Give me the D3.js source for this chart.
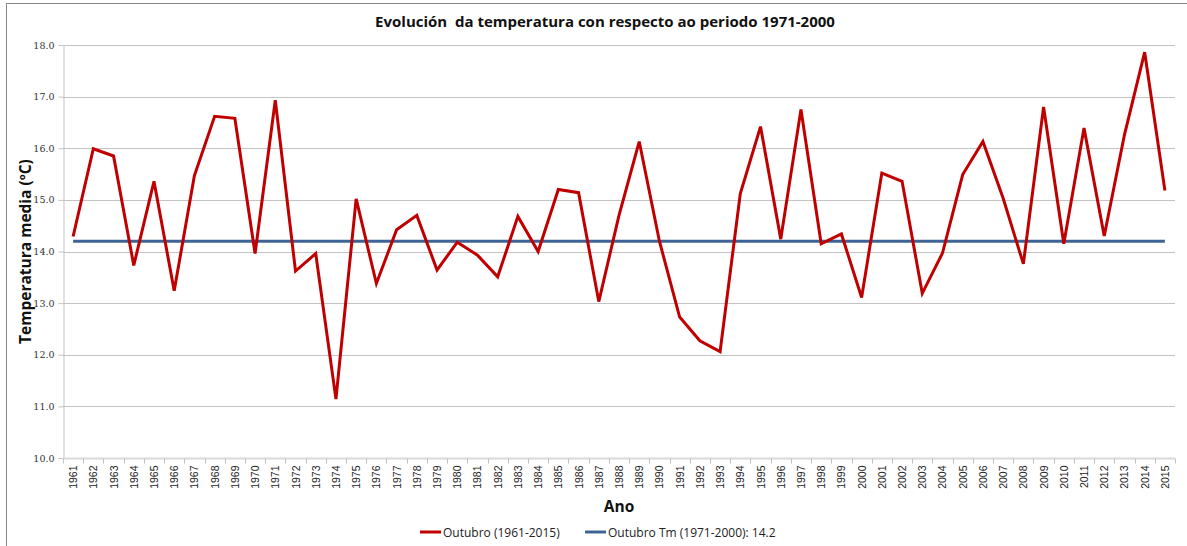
<!DOCTYPE html>
<html>
<head>
<meta charset="utf-8">
<script src="https://cdn.jsdelivr.net/npm/d3@7"></script>
<style>
  body { margin: 0; background: #fff; }
  svg { display: block; }
</style>
</head>
<body>
<svg id="chart" width="1187" height="546"></svg>
<script>
// October mean temperature, 1961-2015
const years = d3.range(1961, 2016).map(String);
const octTemp = [
  14.29, 15.99, 15.85, 13.73, 15.36, 13.24, 15.47, 16.62, 16.58, 13.96,
  16.93, 13.62, 13.96, 11.14, 15.02, 13.38, 14.42, 14.70, 13.64, 14.18,
  13.93, 13.51, 14.68, 14.00, 15.20, 15.14, 13.03, 14.70, 16.13, 14.20,
  12.73, 12.27, 12.06, 15.12, 16.42, 14.24, 16.75, 14.15, 14.34, 13.11,
  15.52, 15.36, 13.19, 13.97, 15.49, 16.13, 15.03, 13.76, 16.80, 14.15,
  16.39, 14.30, 16.26, 17.86, 15.18
];
const refMean = 14.2;
const yTicks = [10, 11, 12, 13, 14, 15, 16, 17, 18];

const seriesNames = ["Outubro (1961-2015)", "Outubro Tm (1971-2000): 14.2"];
const seriesColors = ["#C00000", "#3D6494"];

const svg = d3.select("#chart");
const margin = {top: 45, right: 12, bottom: 88, left: 63};
const W = 1187, H = 546;

// chart frame (cropped at right and bottom like the original)
svg.append("rect")
  .attr("x", 6.5).attr("y", 3.5)
  .attr("width", W + 10).attr("height", H + 10)
  .attr("fill", "none").attr("stroke", "#898989");

const x = d3.scaleBand()
  .domain(years)
  .range([margin.left, W - margin.right]);

const y = d3.scaleLinear()
  .domain([10, 18])
  .range([H - margin.bottom, margin.top]);

// gridlines
svg.append("g")
  .selectAll("line")
  .data(yTicks.filter(d => d > 10))
  .join("line")
  .attr("x1", margin.left).attr("x2", W - margin.right)
  .attr("y1", d => Math.round(y(d)) + 0.5).attr("y2", d => Math.round(y(d)) + 0.5)
  .attr("stroke", "#C3C3C3");

// y axis
const yAxis = svg.append("g")
  .attr("transform", `translate(${margin.left + 0.5},0)`)
  .call(d3.axisLeft(y).tickValues(yTicks).tickFormat(d3.format(".1f")).tickSize(5).tickPadding(4));
yAxis.select(".domain").attr("stroke", "#C3C3C3");
yAxis.selectAll(".tick line").attr("stroke", "#C3C3C3");
yAxis.selectAll("text")
  .attr("font-family", "'DejaVu Serif', 'Liberation Serif', serif")
  .attr("font-size", 9.5).attr("fill", "#333");

// x axis
const xTicks = svg.append("g")
  .attr("transform", `translate(0,${Math.round(y(10)) + 0.5})`);
xTicks.append("line")
  .attr("x1", margin.left).attr("x2", W - margin.right)
  .attr("stroke", "#D9D9D9").attr("stroke-width", 2);
xTicks.selectAll("line.tk")
  .data(years.concat(["end"]))
  .join("line")
  .attr("class", "tk")
  .attr("x1", (d, i) => Math.round(margin.left + i * x.step()) + 0.5)
  .attr("x2", (d, i) => Math.round(margin.left + i * x.step()) + 0.5)
  .attr("y1", 0).attr("y2", 5)
  .attr("stroke", "#C3C3C3");
xTicks.selectAll("text")
  .data(years)
  .join("text")
  .attr("transform", d => `translate(${x(d) + x.bandwidth() / 2 + 4},7) rotate(-90)`)
  .attr("text-anchor", "end")
  .attr("font-family", "'Liberation Sans', Arial, sans-serif")
  .attr("font-size", 10.5).attr("fill", "#222")
  .text(d => d);

// reference mean line
svg.append("line")
  .attr("x1", x(years[0]) + x.bandwidth() / 2)
  .attr("x2", x(years[years.length - 1]) + x.bandwidth() / 2)
  .attr("y1", y(refMean)).attr("y2", y(refMean))
  .attr("stroke", seriesColors[1]).attr("stroke-width", 3);

// temperature series
const line = d3.line()
  .x((d, i) => x(years[i]) + x.bandwidth() / 2)
  .y(d => y(d));
svg.append("path")
  .datum(octTemp)
  .attr("d", line)
  .attr("fill", "none")
  .attr("stroke", seriesColors[0])
  .attr("stroke-width", 3)
  .attr("stroke-linejoin", "miter");

// titles
const bold = "'Open Sans', 'DejaVu Sans', sans-serif";
svg.append("text")
  .attr("x", 605).attr("y", 27)
  .attr("text-anchor", "middle")
  .style("white-space", "pre")
  .attr("font-family", bold).attr("font-weight", "bold").attr("font-size", 15)
  .attr("fill", "#111")
  .text("Evolución  da temperatura con respecto ao periodo 1971-2000");

svg.append("text")
  .attr("transform", `translate(31,${(y(10) + y(18)) / 2}) rotate(-90)`)
  .attr("text-anchor", "middle")
  .attr("font-family", bold).attr("font-weight", "bold").attr("font-size", 15.5)
  .attr("fill", "#111")
  .text("Temperatura media (ºC)");

svg.append("text")
  .attr("x", 619).attr("y", 512)
  .attr("text-anchor", "middle")
  .attr("font-family", bold).attr("font-weight", "bold").attr("font-size", 15.5)
  .attr("fill", "#111")
  .text("Ano");

// legend
const legendX = [420, 585];
const legend = svg.append("g")
  .selectAll("g")
  .data(seriesNames)
  .join("g")
  .attr("transform", (d, i) => `translate(${legendX[i]},532)`);
legend.append("line")
  .attr("x1", 0).attr("x2", 21)
  .attr("stroke", (d, i) => seriesColors[i]).attr("stroke-width", 3);
legend.append("text")
  .attr("x", 23).attr("y", 4.5)
  .attr("font-family", "'Open Sans', 'DejaVu Sans', sans-serif")
  .attr("font-size", 12).attr("fill", "#222")
  .text(d => d);
</script>
</body>
</html>
